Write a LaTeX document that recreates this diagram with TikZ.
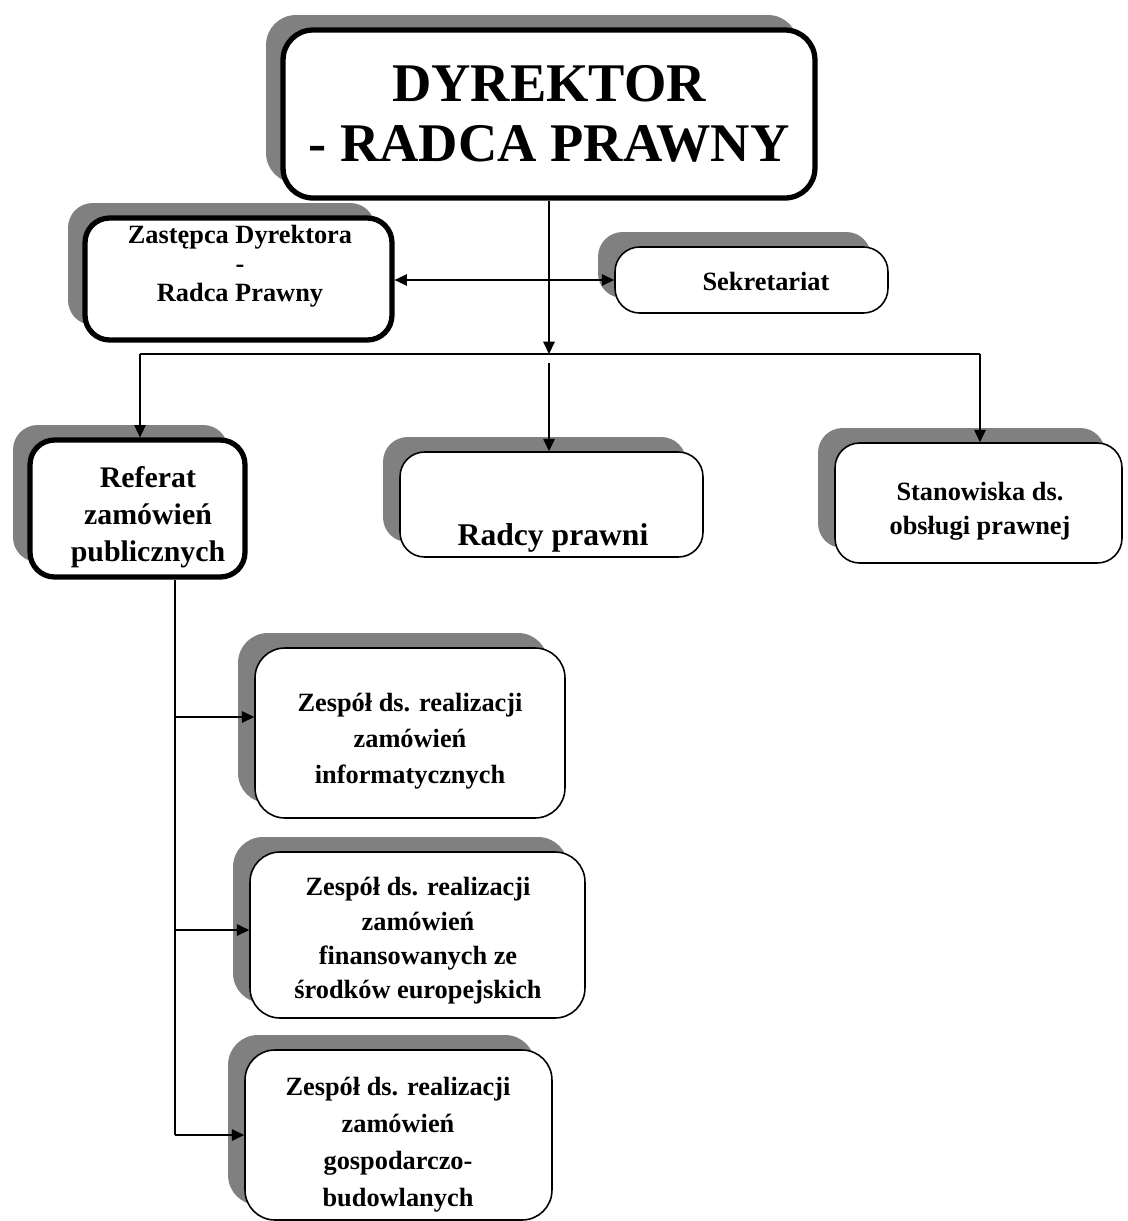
\documentclass[tikz,border=0pt]{standalone}
\usepackage{fontspec}
\setmainfont{Liberation Serif}
\usetikzlibrary{arrows.meta,shadows,calc}
\definecolor{shgray}{HTML}{808080}
\begin{document}
\begin{tikzpicture}[x=0.02cm,y=-0.02cm,
  shbox/.style={rectangle, rounded corners=14pt, fill=white, draw=black,
    general shadow={fill=shgray, shadow xshift=-0.34cm, shadow yshift=0.30cm}},
  thickbox/.style={shbox, line width=3pt},
  thinbox/.style={shbox, line width=0.9pt},
  lbl/.style={align=center, inner sep=0pt, font=\bfseries\fontsize{15}{19.5}\selectfont},
  conn/.style={line width=0.8pt},
  tip/.tip={Triangle[length=7pt,width=6.5pt]},
  arr/.style={conn, -tip},
]
\useasboundingbox (0,0) rectangle (1127,1221);
\clip (0,0) rectangle (1127,1221);

% boxes
\node[thickbox, rounded corners=17pt, minimum width=10.64cm, minimum height=3.36cm,
  align=center, font=\bfseries\fontsize{31}{34}\selectfont] (dyr) at (549,114)
  {DYREKTOR\\- RADCA PRAWNY};
\node[thickbox, minimum width=6.14cm, minimum height=2.44cm] (zast) at (238.5,279) {};
\node[thinbox, minimum width=5.46cm, minimum height=1.32cm] (sek) at (751.5,280) {};
\node[thickbox, minimum width=4.3cm, minimum height=2.74cm] (ref) at (137.5,508.5) {};
\node[thinbox, minimum width=6.06cm, minimum height=2.1cm] (rad) at (551.5,504.5) {};
\node[thinbox, minimum width=5.74cm, minimum height=2.4cm] (stan) at (978.5,503) {};
\node[thinbox, rounded corners=17pt, minimum width=6.2cm, minimum height=3.4cm] (z1) at (410,733) {};
\node[thinbox, rounded corners=17pt, minimum width=6.7cm, minimum height=3.32cm] (z2) at (417.5,935) {};
\node[thinbox, rounded corners=17pt, minimum width=6.14cm, minimum height=3.4cm] (z3) at (398.5,1135) {};

% labels
\node[lbl, font=\bfseries\fontsize{15}{16.5}\selectfont] (zastT) at (240,266) {Zastępca Dyrektora\\-\\Radca Prawny};
\node[lbl] (sekT) at (766,281) {Sekretariat};
\node[lbl, font=\bfseries\fontsize{17}{21}\selectfont] (refT) at (148,517) {Referat\\zamówień\\publicznych};
\node[lbl, font=\bfseries\fontsize{18}{22}\selectfont] (radT) at (553,538) {Radcy prawni};
\node[lbl] (stanT) at (980,511) {Stanowiska ds.\\obsługi prawnej};
\node[lbl, font=\bfseries\fontsize{15}{20.5}\selectfont] (z1T) at (410,741) {Zespół ds. realizacji\\zamówień\\informatycznych};
\node[lbl] (z2T) at (418,941) {Zespół ds. realizacji\\zamówień\\finansowanych ze\\środków europejskich};
\node[lbl, font=\bfseries\fontsize{15}{21}\selectfont] (z3T) at (398,1145) {Zespół ds. realizacji\\zamówień\\gospodarczo-\\budowlanych};

% connectors
\coordinate (hc) at (549,354);
\coordinate (hl) at (140,354);
\coordinate (hr) at (980,354);
\coordinate (hm) at (549,363);
\draw[arr] (dyr.south) -- (hc);
\draw[conn] (hl) -- (hr);
\draw[arr] (hl) -- (hl |- ref.north);
\draw[arr] (hm) -- (hm |- rad.north);
\draw[arr] (hr) -- (hr |- stan.north);
\draw[conn, tip-tip] (zast.east |- sek.west) -- (sek.west);

\coordinate (vx) at (175,0);
\coordinate (b1) at (175,717);
\coordinate (b2) at (175,930);
\coordinate (b3) at (175,1135);
\draw[conn] (ref.south -| vx) -- (b3);
\draw[arr] (b1) -- (b1 -| z1.west);
\draw[arr] (b2) -- (b2 -| z2.west);
\draw[arr] (b3) -- (b3 -| z3.west);
\end{tikzpicture}
\end{document}
